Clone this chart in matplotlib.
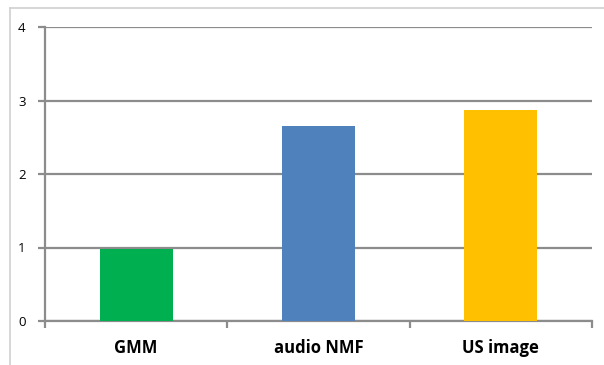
import matplotlib.pyplot as plt
from matplotlib.lines import Line2D

methods = ["GMM", "audio NMF", "US image"]
scores = [0.98, 2.65, 2.87]
bar_colors = ["#00B050", "#4F81BD", "#FFC000"]

plt.rcParams['font.family'] = ['Open Sans', 'DejaVu Sans']

W, H = 604, 365
fig = plt.figure(figsize=(W / 100, H / 100), dpi=100)
ax = fig.add_axes([45 / W, (H - 321) / H, (592 - 45) / W, (321 - 27) / H])

x = list(range(len(methods)))
ax.bar(x, scores, width=0.4, color=bar_colors, zorder=3)

ax.set_xlim(-0.5, len(methods) - 0.5)
ax.set_ylim(0, 4)
ax.set_yticks([0, 1, 2, 3, 4])
ax.yaxis.grid(True, color="#8c8c8c", linewidth=1.6, zorder=0)

# category labels sit between the boundary ticks
ax.set_xticks([i - 0.5 for i in range(len(methods) + 1)])
ax.set_xticklabels([])
ax.set_xticks(x, minor=True)
ax.set_xticklabels(methods, minor=True, fontsize=12, fontweight="bold")
ax.tick_params(axis="x", which="minor", length=0, pad=13)
ax.tick_params(axis="x", which="major", length=5, color="#8c8c8c", width=1.6)
ax.tick_params(axis="y", length=5, color="#8c8c8c", width=1.6, labelsize=9.5, pad=9)

for side in ["top", "right"]:
    ax.spines[side].set_visible(False)
for side in ["left", "bottom"]:
    ax.spines[side].set_color("#8c8c8c")
    ax.spines[side].set_linewidth(1.6)

# light frame around the chart area
frame = "#d0d0d0"
fig.add_artist(Line2D([10 / W, 1], [(H - 8) / H] * 2, color=frame, lw=1.2, transform=fig.transFigure))
fig.add_artist(Line2D([10 / W] * 2, [0, (H - 8) / H], color=frame, lw=1.2, transform=fig.transFigure))

fig.savefig("out.png", dpi=100)
